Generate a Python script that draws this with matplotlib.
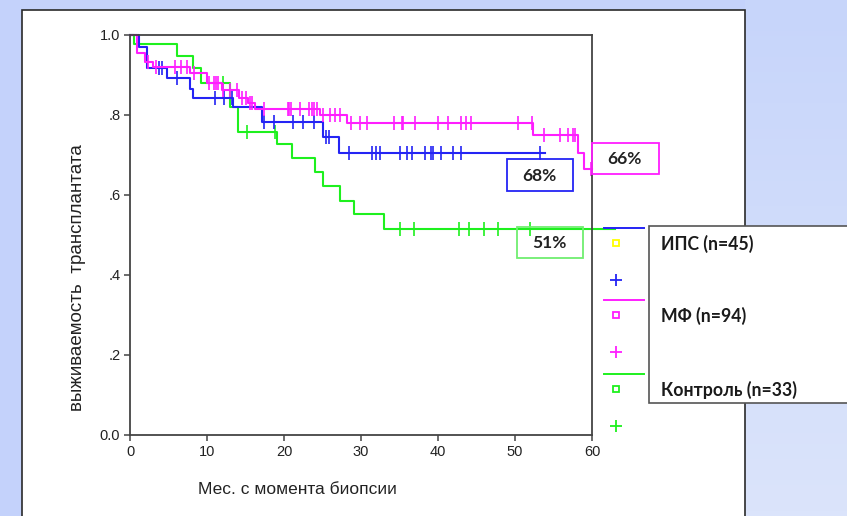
import numpy as np
import matplotlib
matplotlib.use("Agg")
import matplotlib.pyplot as plt
from matplotlib.patches import Rectangle
from matplotlib.lines import Line2D

# Kaplan-Meier steps (months, survival)
ips_t = [0, 1.2, 2.2, 4.8, 7.8, 8.2, 13.4, 17.1, 25.1, 27.1]
ips_s = [1.0, 0.97, 0.9175, 0.8925, 0.865, 0.8425, 0.82, 0.7825, 0.745, 0.705]
ips_end = 53.9
ips_cens = [3.8, 4.2, 6.1, 11.0, 12.2, 13.2, 17.4, 18.7, 21.2, 22.5, 23.9,
            25.4, 25.9, 28.4, 31.4, 31.9, 32.5, 35.1, 36.0, 36.6, 38.3, 39.1,
            39.4, 40.4, 41.9, 43.0, 53.2]

mf_t = [0, 0.9, 2.0, 3.0, 7.8, 10.0, 11.9, 14.1, 15.3, 16.2, 24.7, 28.2,
        52.4, 58.2, 59.0]
mf_s = [1.0, 0.955, 0.932, 0.92, 0.905, 0.88, 0.862, 0.8425, 0.83, 0.815,
        0.80, 0.78, 0.75, 0.705, 0.665]
mf_end = 60.0
mf_cens = [2.3, 3.4, 5.8, 6.6, 7.4, 8.3, 10.3, 10.9, 11.2, 11.4, 12.1, 13.0,
           13.9, 14.5, 15.0, 15.6, 15.9, 17.4, 20.5, 20.7, 20.9, 22.1, 23.2,
           23.6, 23.9, 24.3, 25.1, 26.0, 26.6, 27.3, 28.7, 29.9, 30.8, 34.3,
           35.3, 35.5, 37.0, 40.0, 41.3, 43.0, 43.6, 44.3, 50.4, 52.2, 53.8,
           55.8, 56.9, 57.5, 57.8, 59.9]

ctrl_t = [0, 0.5, 6.1, 8.2, 9.2, 13.0, 14.0, 19.1, 21.0, 24.0, 25.1, 27.3,
          29.1, 33.0]
ctrl_s = [1.0, 0.978, 0.948, 0.918, 0.88, 0.82, 0.7575, 0.7275, 0.6925,
          0.657, 0.6225, 0.585, 0.5525, 0.515]
ctrl_end = 63.0
ctrl_cens = [12.1, 15.2, 18.8, 35.1, 36.9, 42.7, 44.0, 46.0, 47.8, 52.0]

group_labels = ["ИПС (n=45)", "МФ (n=94)", "Контроль (n=33)"]
pct_labels = ["68%", "66%", "51%"]
xticks = [0, 10, 20, 30, 40, 50, 60]
yticks = [0.0, 0.2, 0.4, 0.6, 0.8, 1.0]
ytick_labels = ["0.0", ".2", ".4", ".6", ".8", "1.0"]

BLUE = "#2424f4"
MAG = "#ff1eff"
GREEN = "#1ef01e"

W, H = 847, 516
fig = plt.figure(figsize=(W / 100, H / 100), dpi=100)
fig.patch.set_facecolor("#c4d2fb")

# slide background
bg = fig.add_axes([0, 0, 1, 1], zorder=-1)
bg.set_xlim(0, W)
bg.set_ylim(H, 0)
bg.axis("off")
grad = np.linspace(0, 1, 100).reshape(-1, 1)
bg.imshow(grad, extent=[745, W, H, 0], aspect="auto",
          cmap=matplotlib.colors.LinearSegmentedColormap.from_list(
              "g", ["#c7d5fa", "#dbe4fb"]))
bg.add_patch(Rectangle((22, 10), 723, 520, facecolor="white",
                       edgecolor="#2a2a2a", lw=1.2))

# main chart
ax = fig.add_axes([130 / W, 1 - 435 / H, 462 / W, 400 / H], zorder=1)
ax.patch.set_alpha(0)
ax.set_xlim(0, 60)
ax.set_ylim(0, 1)


def km(t, s, end, cens, color):
    tt = np.append(t, end)
    ss = np.append(s, s[-1])
    ax.step(tt, ss, where="post", color=color, lw=1.5, clip_on=False)
    idx = np.searchsorted(t, cens, side="right") - 1
    ax.plot(cens, np.array(s)[idx], ls="none", marker="|", ms=10, mew=1.2,
            color=color, clip_on=False)


km(ctrl_t, ctrl_s, ctrl_end, ctrl_cens, GREEN)
km(ips_t, ips_s, ips_end, ips_cens, BLUE)
km(mf_t, mf_s, mf_end, mf_cens, MAG)

for sp in ax.spines.values():
    sp.set_color("#444444")
    sp.set_linewidth(1.3)
ax.set_xticks(xticks)
ax.set_yticks(yticks)
ax.set_yticklabels(ytick_labels)
ax.tick_params(direction="out", length=4, width=1.1, color="#444444",
               labelsize=10.5, labelcolor="#222222", pad=3)
for lab in ax.get_xticklabels() + ax.get_yticklabels():
    lab.set_family("Liberation Sans")
ax.set_xlabel("Мес. с момента биопсии", family="Liberation Sans",
              fontsize=12.5, color="#222222")
ax.xaxis.set_label_coords(167 / 462, -47 / 400)
ax.set_ylabel("выживаемость  трансплантата", family="Liberation Sans",
              fontsize=13.5, color="#222222")
ax.yaxis.set_label_coords(-44 / 462, 157 / 400)

# overlay in pixel coordinates
ov = fig.add_axes([0, 0, 1, 1], zorder=2)
ov.patch.set_alpha(0)
ov.set_xlim(0, W)
ov.set_ylim(H, 0)
ov.axis("off")

boxes = [(507, 159, 66, 32), (592, 143, 67, 31), (517, 227, 66, 31)]
box_colors = [BLUE, MAG, "#70ee70"]
for (x, y, w, h), c, txt in zip(boxes, box_colors, pct_labels):
    ov.add_patch(Rectangle((x, y), w, h, facecolor="none", edgecolor=c,
                           lw=1.3))
    ov.text(x + w / 2 - 1, y + h / 2 + 1, txt, ha="center", va="center",
            family="Lato", fontweight="bold", fontsize=12.5, color="#222222")

# legend
ov.add_patch(Rectangle((649, 226), 220, 177, facecolor="white",
                       edgecolor="#555555", lw=1.2))
leg_colors = [BLUE, MAG, GREEN]
sq_colors = ["#ffff00", MAG, GREEN]
line_y = [228, 300, 374]
for c, sc, ly, lab in zip(leg_colors, sq_colors, line_y, group_labels):
    ov.add_line(Line2D([604, 644], [ly, ly], color=c, lw=1.4))
    ov.plot([616], [ly + 15], marker="s", ms=5, mfc="white", mec=sc, mew=1.3)
    ov.plot([616], [ly + 52], marker="+", ms=8, mew=1.3, color=c)
    ov.text(661, ly + 16, lab, ha="left", va="center", family="Lato",
            fontweight="bold", fontsize=12.7, color="#1a1a1a")

fig.savefig("out.png", dpi=100, facecolor=fig.get_facecolor())
